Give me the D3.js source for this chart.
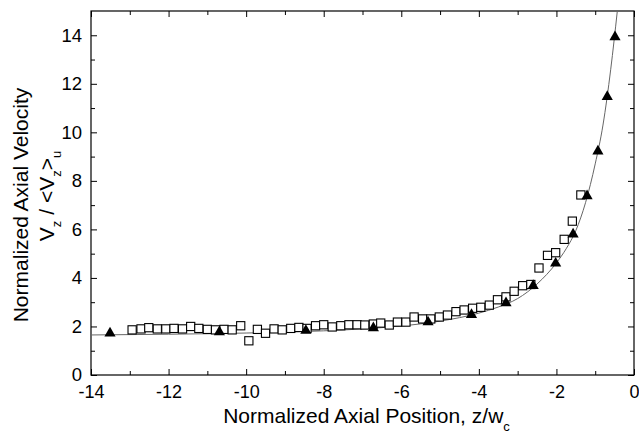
<!DOCTYPE html>
<html>
<head>
<meta charset="utf-8">
<script src="https://d3js.org/d3.v7.min.js"></script>
<style>
    body { margin: 0; background: #fff; }
    text { font-family: Arial, "Liberation Sans", sans-serif; fill: #000; }
</style>
</head>
<body>
<svg id="chart" width="639" height="435"></svg>
<script>
// open squares
const sqX = [-12.94, -12.71, -12.51, -12.29, -12.07, -11.86, -11.64, -11.43, -11.22, -11.00,
             -10.79, -10.57, -10.36, -10.14, -9.93, -9.71, -9.50, -9.28, -9.07, -8.85,
             -8.64, -8.43, -8.21, -8.00, -7.78, -7.56, -7.35, -7.14, -6.94, -6.72,
             -6.53, -6.31, -6.10, -5.88, -5.67, -5.45, -5.24, -5.02, -4.81, -4.59,
             -4.38, -4.16, -3.95, -3.73, -3.52, -3.30, -3.09, -2.87, -2.66, -2.45,
             -2.23, -2.02, -1.80, -1.59, -1.37];
const sqY = [1.86, 1.90, 1.95, 1.90, 1.90, 1.92, 1.90, 2.00, 1.92, 1.88,
             1.86, 1.88, 1.86, 2.03, 1.41, 1.88, 1.72, 1.90, 1.86, 1.92,
             1.96, 1.92, 2.03, 2.07, 1.98, 2.03, 2.07, 2.07, 2.06, 2.10,
             2.14, 2.06, 2.18, 2.18, 2.39, 2.31, 2.31, 2.39, 2.47, 2.61,
             2.68, 2.75, 2.79, 2.88, 3.10, 3.22, 3.45, 3.68, 3.73, 4.41,
             4.93, 5.04, 5.59, 6.34, 7.42];

// filled triangles
const triX = [-13.51, -10.69, -8.46, -6.72, -5.31, -4.19, -3.30, -2.60, -2.02, -1.57, -1.21, -0.93, -0.69, -0.49];
const triY = [1.72, 1.77, 1.83, 1.94, 2.18, 2.48, 2.97, 3.68, 4.60, 5.80, 7.38, 9.22, 11.47, 13.93];

// fitted curve
const fitX = [-14, -12, -10, -8, -7, -6, -5, -4, -3.5, -3, -2.5, -2, -1.75, -1.5, -1.25, -1, -0.8, -0.6, -0.43];
const fitY = [1.65, 1.68, 1.73, 1.82, 1.90, 2.02, 2.22, 2.55, 2.80, 3.15, 3.75, 4.62, 5.20, 5.95, 7.10, 8.70, 10.3, 12.6, 15.0];

const xTicks = [-14, -12, -10, -8, -6, -4, -2, 0];
const yTicks = [0, 2, 4, 6, 8, 10, 12, 14];

const W = 639, H = 435;
const m = { top: 11, right: 5, bottom: 60, left: 91 };

const svg = d3.select("#chart");
const x = d3.scaleLinear().domain([-14, 0]).range([m.left, W - m.right]);
const y = d3.scaleLinear().domain([0, 15]).range([H - m.bottom, m.top]);

svg.append("clipPath").attr("id", "plot")
    .append("rect")
    .attr("x", m.left).attr("y", m.top)
    .attr("width", W - m.left - m.right).attr("height", H - m.top - m.bottom);

// axes: ticks point inward, minor ticks every 1
const minorX = d3.range(-13, 0, 2);
const minorY = d3.range(1, 15, 2);
const tickLen = 6, minorLen = 4;

function noDomain(g) { g.select(".domain").remove(); g.selectAll("line").attr("stroke", "#000"); }

const bottom = svg.append("g").attr("transform", `translate(0,${y(0)})`)
    .call(d3.axisBottom(x).tickValues(xTicks).tickSizeInner(-tickLen).tickPadding(10).tickFormat(d3.format("d")));
bottom.call(noDomain);
bottom.selectAll("text").attr("font-size", 18).text(d => d < 0 ? "-" + Math.abs(d) : d);

svg.append("g").attr("transform", `translate(0,${y(0)})`)
    .call(d3.axisBottom(x).tickValues(minorX).tickSize(-minorLen).tickFormat(""))
    .call(noDomain);
svg.append("g").attr("transform", `translate(0,${y(15)})`)
    .call(d3.axisTop(x).tickValues(xTicks).tickSize(-tickLen).tickFormat(""))
    .call(noDomain);
svg.append("g").attr("transform", `translate(0,${y(15)})`)
    .call(d3.axisTop(x).tickValues(minorX).tickSize(-minorLen).tickFormat(""))
    .call(noDomain);

const left = svg.append("g").attr("transform", `translate(${x(-14)},0)`)
    .call(d3.axisLeft(y).tickValues(yTicks).tickSizeInner(-tickLen).tickPadding(9));
left.call(noDomain);
left.selectAll("text").attr("font-size", 18.5);

svg.append("g").attr("transform", `translate(${x(-14)},0)`)
    .call(d3.axisLeft(y).tickValues(minorY).tickSize(-minorLen).tickFormat(""))
    .call(noDomain);
svg.append("g").attr("transform", `translate(${x(0)},0)`)
    .call(d3.axisRight(y).tickValues(yTicks).tickSize(-tickLen).tickFormat(""))
    .call(noDomain);
svg.append("g").attr("transform", `translate(${x(0)},0)`)
    .call(d3.axisRight(y).tickValues(minorY).tickSize(-minorLen).tickFormat(""))
    .call(noDomain);

// frame
svg.append("rect")
    .attr("x", x(-14)).attr("y", y(15))
    .attr("width", x(0) - x(-14)).attr("height", y(0) - y(15))
    .attr("fill", "none").attr("stroke", "#000").attr("stroke-width", 1.2);

// fit curve
const fit = fitX.map((v, i) => [v, fitY[i]]);
svg.append("path")
    .attr("clip-path", "url(#plot)")
    .attr("d", d3.line().x(d => x(d[0])).y(d => y(d[1])).curve(d3.curveMonotoneX)(fit))
    .attr("fill", "none").attr("stroke", "#666").attr("stroke-width", 1);

// squares
const sq = 8.2;
svg.append("g").selectAll("rect")
    .data(sqX.map((v, i) => [v, sqY[i]]))
    .join("rect")
    .attr("x", d => x(d[0]) - sq / 2).attr("y", d => y(d[1]) - sq / 2)
    .attr("width", sq).attr("height", sq)
    .attr("fill", "#fff").attr("stroke", "#000").attr("stroke-width", 1.1);

// triangles
svg.append("g").selectAll("path")
    .data(triX.map((v, i) => [v, triY[i]]))
    .join("path")
    .attr("transform", d => `translate(${x(d[0])},${y(d[1])})`)
    .attr("d", d3.symbol().type(d3.symbolTriangle).size(54))
    .attr("fill", "#000");

// axis titles
const xt = svg.append("text")
    .attr("x", (x(-14) + x(0)) / 2 + 4).attr("y", 423)
    .attr("text-anchor", "middle").attr("font-size", 21);
xt.append("tspan").text("Normalized Axial Position, z/w");
xt.append("tspan").attr("dy", 8).attr("font-size", 13).text("c");

svg.append("text")
    .attr("transform", `translate(28,205) rotate(-90)`)
    .attr("text-anchor", "middle").attr("font-size", 21)
    .text("Normalized Axial Velocity");

const yt2 = svg.append("text")
    .attr("transform", `translate(54,196) rotate(-90)`)
    .attr("text-anchor", "middle").attr("font-size", 21);
yt2.append("tspan").text("V");
yt2.append("tspan").attr("dy", 7).attr("font-size", 13).text("z");
yt2.append("tspan").attr("dy", -7).text(" / <V");
yt2.append("tspan").attr("dy", 7).attr("font-size", 13).text("z");
yt2.append("tspan").attr("dy", -7).text(">");
yt2.append("tspan").attr("dy", 7).attr("font-size", 13).text("u");
</script>
</body>
</html>
